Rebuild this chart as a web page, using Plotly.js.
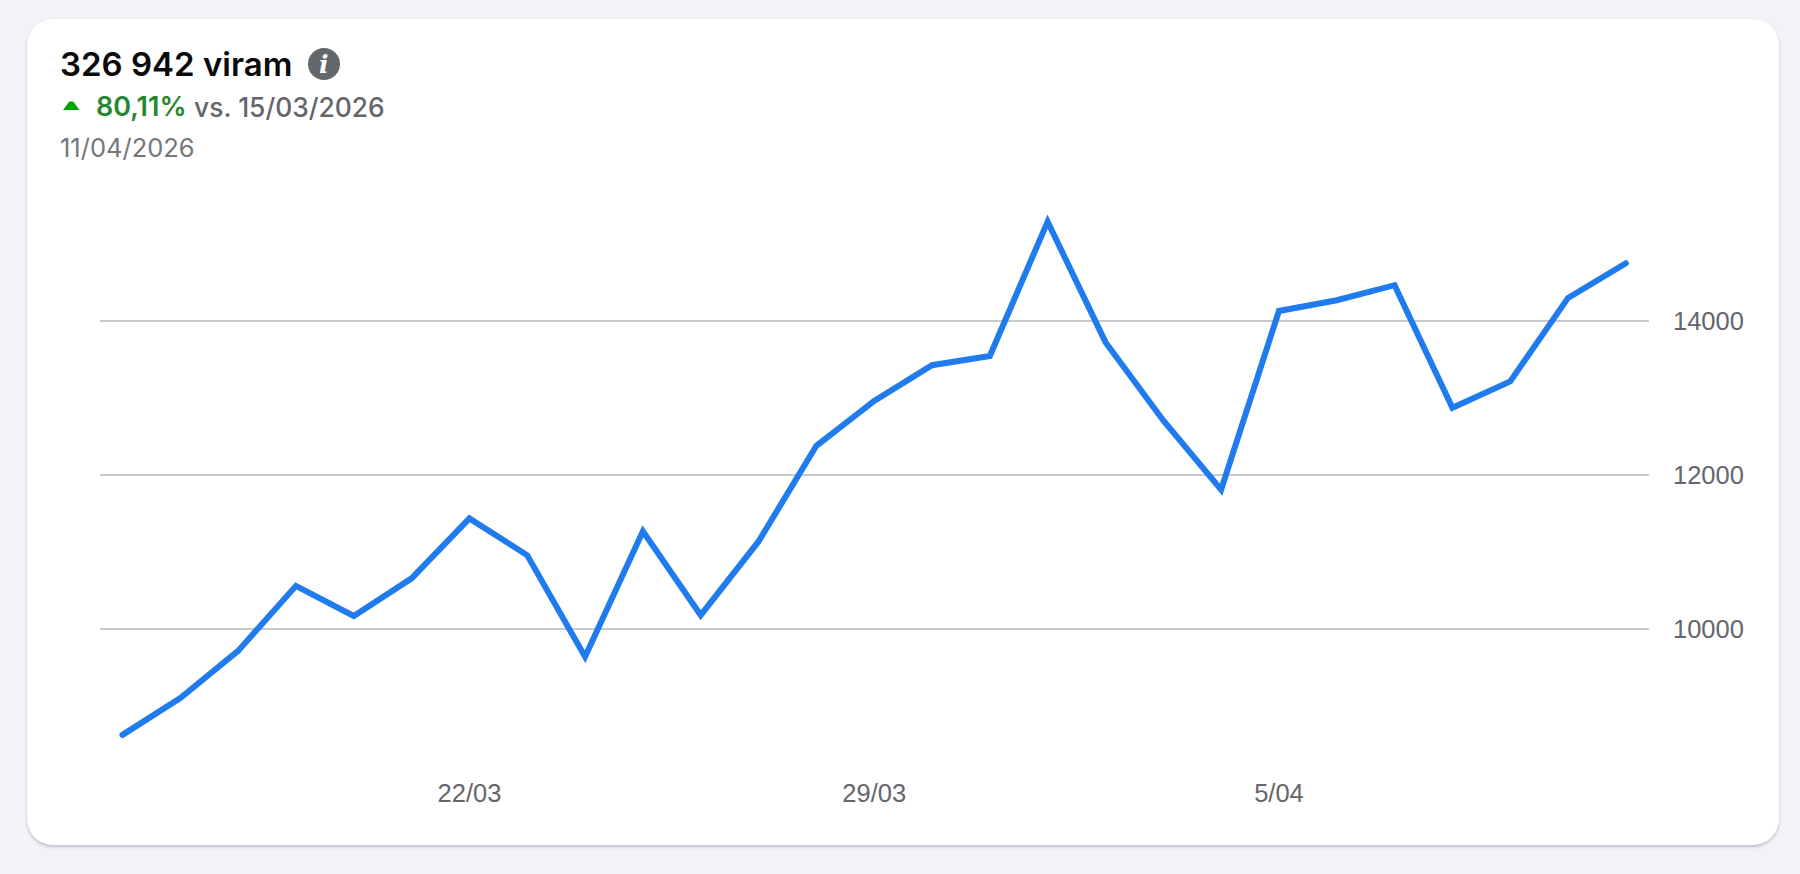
<!DOCTYPE html>
<html><head><meta charset="utf-8">
<script src="https://cdn.plot.ly/plotly-3.0.1.min.js"></script>
<style>
html,body{margin:0;padding:0;width:1800px;height:874px;background:#f1f3f8;overflow:hidden}
#card{position:absolute;left:27px;top:19px;width:1752px;height:826px;background:#fff;border-radius:26px;box-shadow:0 2px 3px rgba(60,64,80,.28)}
#chart{position:absolute;left:0;top:0;width:1800px;height:874px}
.js-line{stroke-linecap:round!important;stroke-linejoin:miter!important;stroke-miterlimit:10!important}
</style></head><body>
<div id="card"></div><div id="chart"></div>
<script>
const dates=["2026-03-16","2026-03-17","2026-03-18","2026-03-19","2026-03-20","2026-03-21","2026-03-22","2026-03-23","2026-03-24","2026-03-25","2026-03-26","2026-03-27","2026-03-28","2026-03-29","2026-03-30","2026-03-31","2026-04-01","2026-04-02","2026-04-03","2026-04-04","2026-04-05","2026-04-06","2026-04-07","2026-04-08","2026-04-09","2026-04-10","2026-04-11"];
const values=[8625,9102,9716,10560,10170,10658,11436,10957,9640,11270,10180,11137,12379,12962,13426,13545,15290,13725,12708,11810,14130,14270,14465,12872,13216,14300,14750];
const xTickVals=["2026-03-22","2026-03-29","2026-04-05"];
const xTickText=["22/03","29/03","5/04"];
const yTickVals=[10000,12000,14000];
const W=1800,H=874,L=100,PW=1549,T=180,PH=595;
const px=v=>(v-L)/PW, py=v=>(T+PH-v)/PH;
const grey="#63666b";
function note(text,x,y,font){return {text,x:px(x),y:py(y),xref:"paper",yref:"paper",xanchor:"left",yanchor:"middle",showarrow:false,borderpad:0,font};}
const layout={
 width:W,height:H,paper_bgcolor:"rgba(0,0,0,0)",plot_bgcolor:"rgba(0,0,0,0)",showlegend:false,
 margin:{l:L,r:W-L-PW,t:T,b:H-T-PH,pad:0},
 xaxis:{type:"date",range:["2026-03-15 14:40","2026-04-11 09:36"],tickmode:"array",tickvals:xTickVals,ticktext:xTickText,showgrid:false,zeroline:false,showline:false,ticks:"",tickfont:{family:"Liberation Sans",size:25.5,color:grey}},
 yaxis:{side:"right",range:[8104,15831],tickmode:"array",tickvals:yTickVals,ticktext:yTickVals.map(String),showgrid:true,gridcolor:"#c8cace",gridwidth:2,zeroline:false,showline:false,ticks:"",ticklabelstandoff:23,tickfont:{family:"Liberation Sans",size:25.5,color:grey}},
 shapes:[
  {type:"circle",xref:"paper",yref:"paper",x0:px(308),x1:px(340),y0:py(80),y1:py(48),fillcolor:grey,line:{width:0}},
  {type:"path",xref:"paper",yref:"paper",path:`M ${px(66)} ${py(108.5)} L ${px(76.5)} ${py(108.5)} L ${px(72.5)} ${py(103)} L ${px(70)} ${py(103)} Z`,fillcolor:"#00a400",line:{color:"#00a400",width:3}}
 ],
 annotations:[
  note("326 942 viram",58.5,64,{family:"Inter",size:33,color:"#0a0a0a",weight:600}),
  note("i",318,64,{family:"DejaVu Serif",size:25,color:"#fff",weight:700,style:"italic"}),
  note("80,11%",95,106.5,{family:"Inter",size:27,color:"#23882f",weight:600}),
  note("vs. 15/03/2026",193,106.5,{family:"Inter",size:26.4,color:grey,weight:500}),
  note("11/04/2026",58.5,148,{family:"Inter",size:25.5,color:"#74777c"})
 ]
};
Plotly.newPlot("chart",[{type:"scatter",mode:"lines",x:dates,y:values,line:{color:"#1f7bee",width:6,shape:"linear"},hoverinfo:"x+y"}],layout,{displayModeBar:false,staticPlot:true});
</script></body></html>
